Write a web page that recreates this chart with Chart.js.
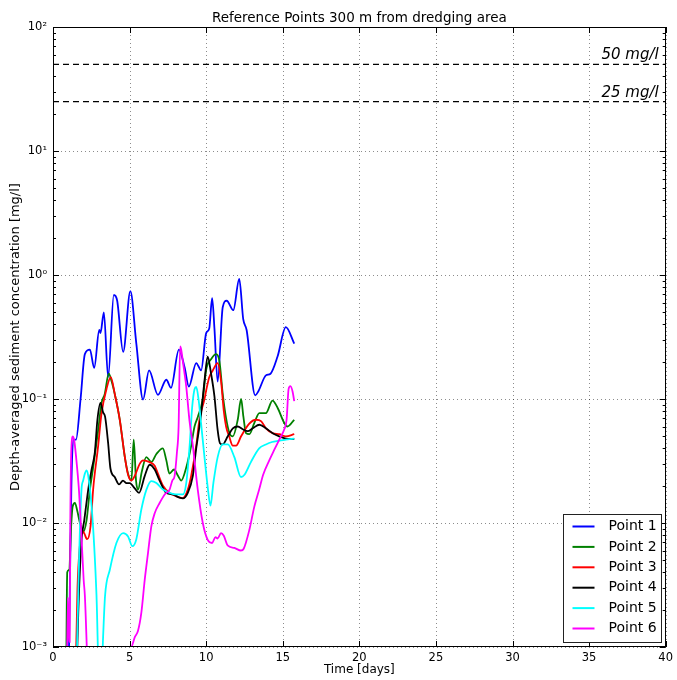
<!DOCTYPE html>
<html>
<head>
<meta charset="utf-8">
<script src="https://cdn.jsdelivr.net/npm/chart.js@4/dist/chart.umd.min.js"></script>
<style>
  html, body { margin: 0; padding: 0; background: #fff; }
  #wrap { width: 677px; height: 680px; }
</style>
</head>
<body>
<div id="wrap"><canvas id="c" width="677" height="680"></canvas></div>
<script>
// Axis ticks
const xTickValues = [0, 5, 10, 15, 20, 25, 30, 35, 40];
const yTickValues = [0.001, 0.01, 0.1, 1, 10, 100];
const yTickLabels = ['10\u207B\u00B3', '10\u207B\u00B2', '10\u207B\u00B9', '10\u2070', '10\u00B9', '10\u00B2'];

// Threshold levels (mg/l)
const thresholdValues = [50, 25];
const thresholdLabels = ['50 mg/l', '25 mg/l'];

const seriesNames = ['Point 1', 'Point 2', 'Point 3', 'Point 4', 'Point 5', 'Point 6'];
const seriesColors = ['#0000ff', '#008000', '#ff0000', '#000000', '#00ffff', '#ff00ff'];

// Point 1
const p1Days = [1.0, 1.1, 1.2, 1.32, 1.5, 1.8, 2.08, 2.41, 2.69, 3.02, 3.1, 3.32, 3.6, 3.97, 4.19, 4.58, 5.05, 5.44, 5.88, 6.27, 6.85, 7.4, 7.7, 8.22, 8.59, 8.87, 9.35, 9.67, 10.0, 10.2, 10.39, 10.54, 10.75, 11.08, 11.34, 11.77, 12.16, 12.42, 12.64, 13.2, 13.4, 13.9, 14.2, 14.66, 15.2, 15.75];
const p1Conc = [0.0004, 0.003, 0.02, 0.047, 0.047, 0.1, 0.23, 0.25, 0.178, 0.36, 0.34, 0.5, 0.15, 0.69, 0.62, 0.24, 0.74, 0.28, 0.099, 0.17, 0.108, 0.143, 0.123, 0.25, 0.18, 0.126, 0.195, 0.17, 0.34, 0.37, 0.65, 0.37, 0.138, 0.55, 0.62, 0.52, 0.93, 0.44, 0.36, 0.107, 0.115, 0.155, 0.16, 0.22, 0.38, 0.28];

// Point 2
const p2Days = [0.85, 0.93, 1.06, 1.17, 1.28, 1.43, 1.58, 1.76, 1.97, 2.19, 2.41, 2.62, 2.95, 3.17, 3.38, 3.64, 3.82, 4.03, 4.36, 4.69, 4.9, 5.12, 5.27, 5.42, 5.55, 5.8, 6.09, 6.42, 6.75, 7.17, 7.4, 7.6, 7.9, 8.16, 8.37, 8.7, 9.02, 9.24, 9.46, 9.78, 10.0, 10.33, 10.65, 10.87, 11.08, 11.3, 11.52, 11.74, 12.06, 12.28, 12.43, 12.6, 12.82, 13.14, 13.47, 13.9, 14.33, 14.66, 15.1, 15.3, 15.75];
const p2Conc = [0.0004, 0.004, 0.0042, 0.0087, 0.0135, 0.0145, 0.0126, 0.01, 0.0085, 0.0105, 0.0186, 0.028, 0.056, 0.093, 0.11, 0.16, 0.14, 0.11, 0.068, 0.034, 0.025, 0.022, 0.047, 0.022, 0.0186, 0.026, 0.034, 0.031, 0.036, 0.04, 0.032, 0.025, 0.027, 0.024, 0.022, 0.028, 0.042, 0.06, 0.072, 0.1, 0.172, 0.21, 0.23, 0.2, 0.11, 0.07, 0.053, 0.05, 0.068, 0.1, 0.072, 0.053, 0.052, 0.064, 0.077, 0.077, 0.097, 0.085, 0.064, 0.06, 0.068];

// Point 3
const p3Days = [1.45, 1.6, 1.75, 1.9, 2.05, 2.23, 2.45, 2.62, 2.95, 3.17, 3.49, 3.77, 4.03, 4.36, 4.69, 4.9, 5.12, 5.34, 5.66, 5.88, 6.31, 6.64, 6.85, 7.18, 7.61, 8.05, 8.48, 8.8, 9.02, 9.35, 9.56, 9.89, 10.0, 10.2, 10.43, 10.75, 10.97, 11.15, 11.3, 11.5, 11.74, 11.95, 12.28, 12.8, 13.25, 13.6, 13.9, 14.34, 14.77, 15.2, 15.75];
const p3Conc = [0.0004, 0.003, 0.0065, 0.0088, 0.0082, 0.0074, 0.0094, 0.0186, 0.042, 0.077, 0.12, 0.15, 0.11, 0.068, 0.034, 0.0245, 0.022, 0.024, 0.03, 0.032, 0.031, 0.029, 0.025, 0.02, 0.0175, 0.0164, 0.0159, 0.0186, 0.024, 0.042, 0.068, 0.1, 0.117, 0.15, 0.17, 0.195, 0.14, 0.08, 0.06, 0.05, 0.042, 0.042, 0.05, 0.063, 0.068, 0.066, 0.058, 0.053, 0.052, 0.05, 0.052];

// Point 4
const p4Days = [1.5, 1.65, 1.86, 2.04, 2.3, 2.52, 2.73, 2.9, 3.1, 3.27, 3.4, 3.6, 3.75, 4.03, 4.31, 4.57, 4.8, 5.01, 5.34, 5.62, 5.99, 6.31, 6.64, 6.96, 7.4, 7.83, 8.26, 8.48, 8.8, 9.13, 9.35, 9.56, 9.67, 9.89, 10.1, 10.32, 10.54, 10.75, 10.9, 11.08, 11.41, 11.74, 12.06, 12.39, 12.71, 13.04, 13.47, 13.9, 14.34, 14.77, 15.2, 15.75];
const p4Conc = [0.0004, 0.0019, 0.0072, 0.0105, 0.0186, 0.027, 0.037, 0.068, 0.093, 0.078, 0.072, 0.044, 0.0275, 0.0235, 0.0205, 0.022, 0.021, 0.021, 0.019, 0.0175, 0.024, 0.0295, 0.027, 0.022, 0.0175, 0.017, 0.016, 0.0158, 0.0175, 0.024, 0.04, 0.06, 0.076, 0.14, 0.22, 0.16, 0.105, 0.056, 0.044, 0.043, 0.05, 0.058, 0.06, 0.057, 0.055, 0.058, 0.062, 0.058, 0.053, 0.05, 0.048, 0.0476];

// Point 5
const p5Days = [1.5, 1.7, 1.86, 1.97, 2.08, 2.19, 2.3, 2.52, 2.69, 2.84, 3.02, 3.15, 3.27, 3.4, 3.71, 4.14, 4.58, 4.9, 5.18, 5.44, 5.77, 6.1, 6.42, 6.75, 7.18, 7.61, 8.05, 8.48, 8.7, 8.92, 9.09, 9.24, 9.35, 9.5, 9.67, 9.89, 10.1, 10.28, 10.47, 10.75, 11.08, 11.41, 11.84, 12.27, 12.5, 12.92, 13.46, 13.9, 14.3, 14.7, 15.2, 15.75];
const p5Conc = [0.0004, 0.005, 0.0186, 0.022, 0.025, 0.0266, 0.024, 0.0136, 0.0065, 0.0026, 0.0005, 0.0005, 0.0012, 0.0026, 0.0042, 0.0069, 0.0083, 0.0078, 0.0065, 0.0074, 0.0129, 0.0186, 0.0218, 0.021, 0.0186, 0.0175, 0.017, 0.017, 0.021, 0.042, 0.087, 0.12, 0.125, 0.1, 0.063, 0.034, 0.0195, 0.0138, 0.021, 0.034, 0.043, 0.043, 0.034, 0.0235, 0.0245, 0.031, 0.04, 0.043, 0.045, 0.046, 0.047, 0.048];

// Point 6
const p6Days = [0.9, 0.97, 1.0, 1.05, 1.09, 1.13, 1.2, 1.3, 1.4, 1.55, 1.7, 1.86, 2.0, 2.08, 2.23, 2.3, 4.85, 4.9, 5.1, 5.34, 5.55, 5.77, 5.99, 6.2, 6.42, 6.64, 6.96, 7.29, 7.61, 7.79, 7.94, 8.09, 8.2, 8.3, 8.37, 8.48, 8.59, 8.7, 8.91, 9.13, 9.45, 9.78, 10.1, 10.39, 10.6, 10.75, 10.97, 11.15, 11.4, 11.84, 12.27, 12.45, 12.81, 13.14, 13.46, 13.72, 14.12, 14.45, 14.77, 15.1, 15.25, 15.38, 15.5, 15.64, 15.75];
const p6Conc = [0.0004, 0.0025, 0.0019, 0.0012, 0.0011, 0.01, 0.04, 0.05, 0.045, 0.03, 0.018, 0.0078, 0.0035, 0.0026, 0.0008, 0.0004, 0.0004, 0.001, 0.001, 0.0012, 0.00135, 0.0019, 0.0035, 0.0057, 0.0094, 0.012, 0.0145, 0.017, 0.0186, 0.022, 0.024, 0.037, 0.06, 0.266, 0.25, 0.2, 0.16, 0.126, 0.067, 0.042, 0.0186, 0.01, 0.0073, 0.0069, 0.0077, 0.0075, 0.0083, 0.0079, 0.0066, 0.0063, 0.006, 0.0062, 0.0087, 0.0135, 0.0186, 0.0245, 0.032, 0.039, 0.047, 0.057, 0.068, 0.12, 0.127, 0.115, 0.096];

const seriesDays = [p1Days, p2Days, p3Days, p4Days, p5Days, p6Days];
const seriesConc = [p1Conc, p2Conc, p3Conc, p4Conc, p5Conc, p6Conc];

const FONT = "'DejaVu Sans', 'Liberation Sans', sans-serif";

const pointDatasets = seriesNames.map((name, i) => ({
  label: name,
  data: seriesDays[i].map((d, k) => ({ x: d, y: seriesConc[i][k] })),
  borderColor: seriesColors[i],
  borderWidth: 1.8,
  pointRadius: 0,
  cubicInterpolationMode: 'monotone',
  fill: false,
  order: 10 - i
}));

const thresholdDatasets = thresholdValues.map((v, i) => ({
  label: thresholdLabels[i],
  data: [{ x: xTickValues[0], y: v }, { x: xTickValues[xTickValues.length - 1], y: v }],
  borderColor: '#000',
  borderWidth: 1.2,
  borderDash: [6, 4],
  pointRadius: 0,
  fill: false,
  order: 20
}));

// Grid, frame, inward ticks, threshold labels, legend and title
const decorations = {
  id: 'decorations',
  beforeDatasetsDraw(chart) {
    const { ctx, chartArea: a, scales: { x, y } } = chart;
    ctx.save();
    ctx.strokeStyle = 'rgba(0,0,0,0.45)';
    ctx.lineWidth = 1;
    ctx.setLineDash([1, 3]);
    xTickValues.forEach(v => {
      const px = Math.round(x.getPixelForValue(v)) + 0.5;
      ctx.beginPath(); ctx.moveTo(px, a.top); ctx.lineTo(px, a.bottom); ctx.stroke();
    });
    yTickValues.forEach(v => {
      const py = Math.round(y.getPixelForValue(v)) + 0.5;
      ctx.beginPath(); ctx.moveTo(a.left, py); ctx.lineTo(a.right, py); ctx.stroke();
    });
    ctx.restore();
  },
  afterDatasetsDraw(chart) {
    const { ctx, chartArea: a, scales: { x, y } } = chart;
    ctx.save();
    ctx.setLineDash([]);
    ctx.strokeStyle = '#000';
    ctx.lineWidth = 1;

    // ticks pointing inward on all four sides
    const major = 6, minor = 3;
    xTickValues.forEach(v => {
      const px = Math.round(x.getPixelForValue(v)) + 0.5;
      ctx.beginPath();
      ctx.moveTo(px, a.bottom); ctx.lineTo(px, a.bottom - major);
      ctx.moveTo(px, a.top); ctx.lineTo(px, a.top + major);
      ctx.stroke();
    });
    const yMin = yTickValues[0], yMax = yTickValues[yTickValues.length - 1];
    for (let e = Math.log10(yMin); e < Math.log10(yMax); e++) {
      for (let m = 1; m <= 9; m++) {
        const v = m * Math.pow(10, e);
        const py = Math.round(y.getPixelForValue(v)) + 0.5;
        const len = m === 1 ? major : minor;
        ctx.beginPath();
        ctx.moveTo(a.left, py); ctx.lineTo(a.left + len, py);
        ctx.moveTo(a.right, py); ctx.lineTo(a.right - len, py);
        ctx.stroke();
      }
    }

    // plot frame
    ctx.strokeRect(Math.round(a.left) + 0.5, Math.round(a.top) + 0.5,
      Math.round(a.right - a.left) - 1, Math.round(a.bottom - a.top) - 1);

    // threshold labels
    ctx.fillStyle = '#000';
    ctx.font = 'italic 15px ' + FONT;
    ctx.textAlign = 'right';
    ctx.textBaseline = 'alphabetic';
    thresholdValues.forEach((v, i) => {
      ctx.fillText(thresholdLabels[i], a.right - 7, y.getPixelForValue(v) - 5);
    });

    // legend box in the lower right corner
    const bw = 98, bh = 128;
    const bx = Math.round(a.right - 5 - bw) + 0.5, by = Math.round(a.bottom - 5 - bh) + 0.5;
    ctx.fillStyle = '#fff';
    ctx.fillRect(bx, by, bw, bh);
    ctx.strokeStyle = '#222';
    ctx.strokeRect(bx, by, bw, bh);
    ctx.font = '14px ' + FONT;
    ctx.textAlign = 'left';
    ctx.textBaseline = 'middle';
    seriesNames.forEach((name, i) => {
      const ry = by + 12 + i * 20.4;
      ctx.strokeStyle = seriesColors[i];
      ctx.lineWidth = 2;
      ctx.beginPath(); ctx.moveTo(bx + 9, ry); ctx.lineTo(bx + 31, ry); ctx.stroke();
      ctx.fillStyle = '#000';
      ctx.fillText(name, bx + 45, ry);
    });

    // title
    ctx.font = '13.5px ' + FONT;
    ctx.textAlign = 'center';
    ctx.textBaseline = 'middle';
    ctx.fillStyle = '#000';
    ctx.fillText('Reference Points 300 m from dredging area', (a.left + a.right) / 2, 18);
    ctx.restore();
  }
};

new Chart(document.getElementById('c'), {
  type: 'line',
  data: { datasets: [...pointDatasets, ...thresholdDatasets] },
  options: {
    responsive: false,
    animation: false,
    devicePixelRatio: 1,
    events: [],
    layout: { padding: { top: 27, right: 9, left: 0, bottom: 0 } },
    plugins: { legend: { display: false }, tooltip: { enabled: false }, title: { display: false } },
    scales: {
      x: {
        type: 'linear',
        min: xTickValues[0],
        max: xTickValues[xTickValues.length - 1],
        afterBuildTicks: s => { s.ticks = xTickValues.map(v => ({ value: v })); },
        afterFit: s => { s.height = 33; },
        grid: { display: false, drawTicks: false },
        border: { display: false },
        ticks: { color: '#000', font: { family: FONT, size: 11.5 }, padding: 4, maxRotation: 0 },
        title: { display: true, text: 'Time [days]', color: '#000', font: { family: FONT, size: 12 }, padding: { top: 0, bottom: 3 } }
      },
      y: {
        type: 'logarithmic',
        min: yTickValues[0],
        max: yTickValues[yTickValues.length - 1],
        afterBuildTicks: s => { s.ticks = yTickValues.map(v => ({ value: v })); },
        afterFit: s => { s.width = 53; },
        grid: { display: false, drawTicks: false },
        border: { display: false },
        ticks: {
          color: '#000',
          font: { family: FONT, size: 11.5 },
          padding: 6,
          callback: v => {
            const i = yTickValues.findIndex(t => Math.abs(Math.log10(t) - Math.log10(v)) < 1e-6);
            return i >= 0 ? yTickLabels[i] : '';
          }
        },
        title: { display: true, text: 'Depth-averaged sediment concentration [mg/l]', color: '#000', font: { family: FONT, size: 13 }, padding: { top: 8, bottom: 0 } }
      }
    }
  },
  plugins: [decorations]
});
</script>
</body>
</html>
